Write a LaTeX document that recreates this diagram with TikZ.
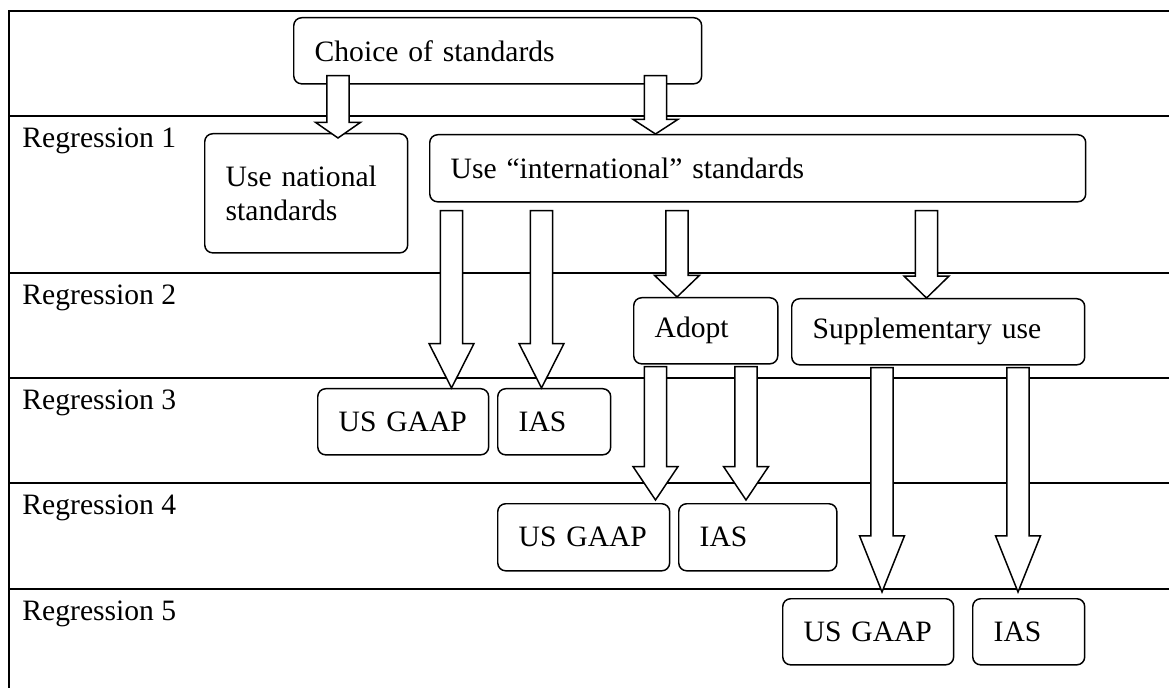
\documentclass[tikz,border=0pt]{standalone}
\usepackage{fontspec}
\setmainfont{Liberation Serif}
\usepackage{tikz}
\usetikzlibrary{calc}

\tikzset{
  box/.style={draw, line width=0.6pt, rounded corners=3.2pt, anchor=north west,
    align=left, inner xsep=8.5pt, inner ysep=0pt, minimum height=26.8pt,
    font=\fontsize{12}{13.8}\selectfont},
  rowlabel/.style={anchor=west, inner sep=0pt, font=\fontsize{12}{13.8}\selectfont},
  blockarrow/.style={draw, fill=white, line width=0.6pt, line join=miter},
  thickrule/.style={line width=0.8pt},
  thinrule/.style={line width=0.45pt}
}

% hollow block arrow : column, from node, to node, start shift, tip shift
\newcommand{\blockarr}[5]{%
  \path[blockarrow] let \p1=($(#1 |- #2.south)+(0,#4)$), \p2=($(#1 |- #3.north)+(0,#5)$),
    \n1={0.25*(\y1-\y2)} in
    (\x1-4.5pt,\y1) -- (\x1-4.5pt,\y2+\n1) -- (\x1-9.1pt,\y2+\n1) -- (\x2,\y2)
    -- (\x1+9.1pt,\y2+\n1) -- (\x1+4.5pt,\y2+\n1) -- (\x1+4.5pt,\y1) -- cycle ;}

\begin{document}
\begin{tikzpicture}[x=0.4055pt, y=-0.4055pt]
\useasboundingbox (0,0) rectangle (1169,688) ;
% table
\draw[thickrule] (9,688) -- (9,11) -- (1169,11) ;
\draw[thickrule] (9,116) -- (1169,116) ;
\draw[thinrule] (9,273) -- (1169,273) ;
\draw[thickrule] (9,378) -- (1169,378) ;
\draw[thickrule] (9,483) -- (1169,483) ;
\draw[thinrule] (9,589) -- (1169,589) ;
\foreach \i/\y in {1/141,2/298,3/403,4/508,5/614}
  \node[rowlabel] (reg\i) at (22,\y) {Regression \i} ;
% box choice
\node[box, text width=148.4pt] (choice) at (293,17) {Choice of standards} ;
% regression 1
\node[box, text width=65.3pt, minimum height=48.3pt] (natl) at (204,133) {Use national\\standards} ;
\node[box, text width=249pt, minimum height=27.2pt] (intl) at (429,134) {Use “international” standards} ;
% regression 2
\node[box, text width=41.4pt] (adopt) at (633,297) {Adopt} ;
\node[box, text width=101.8pt] (supp) at (791,298) {Supplementary use} ;
% regression 3
\node[box, text width=52.3pt] (gaapA) at (317,388) {US GAAP} ;
\node[box, text width=28.8pt] (iasA) at (497,388) {IAS} ;
% regression 4
\node[box, text width=52.7pt, minimum height=27.2pt] (gaapB) at (497,503) {US GAAP} ;
\node[box, text width=47.1pt, minimum height=27.2pt] (iasB) at (678,503) {IAS} ;
% regression 5
\node[box, text width=52.3pt] (gaapC) at (782,598) {US GAAP} ;
\node[box, text width=28.4pt] (iasC) at (972,598) {IAS} ;
% arrow columns
\coordinate (c1) at (338,0) ;
\coordinate (c2) at (655.5,0) ;
\coordinate (cA) at (451.5,0) ;
\coordinate (cB) at (541.5,0) ;
\coordinate (cC) at (677,0) ;
\coordinate (cD) at (926.5,0) ;
\coordinate (cE) at (655.5,0) ;
\coordinate (cF) at (746,0) ;
\coordinate (cG) at (882,0) ;
\coordinate (cH) at (1018,0) ;
% arrows
\blockarr{c1}{choice}{natl}{-9}{5}
\blockarr{c2}{choice}{intl}{-9}{0}
\blockarr{cA}{intl}{gaapA}{8}{0}
\blockarr{cB}{intl}{iasA}{8}{0}
\blockarr{cC}{intl}{adopt}{8}{0}
\blockarr{cD}{intl}{supp}{8}{0}
\blockarr{cE}{adopt}{gaapB}{2}{-3}
\blockarr{cF}{adopt}{iasB}{2}{-3}
\blockarr{cG}{supp}{gaapC}{2}{-6}
\blockarr{cH}{supp}{iasC}{2}{-6}
\end{tikzpicture}
\end{document}
